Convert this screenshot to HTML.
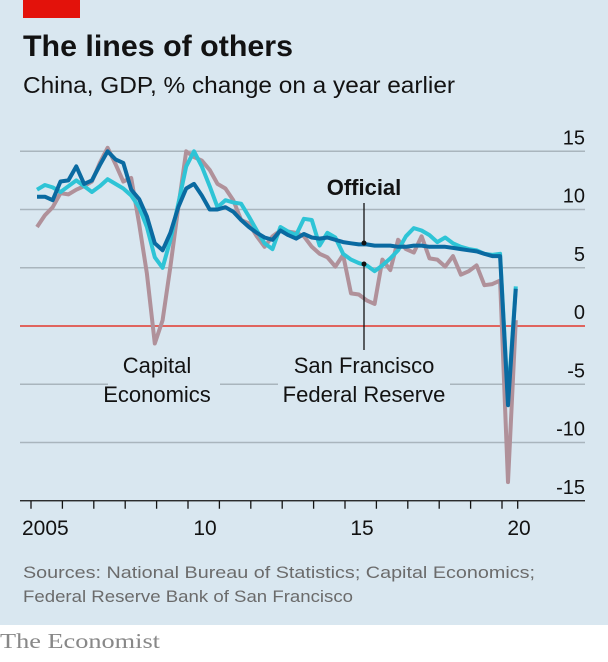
<!DOCTYPE html>
<html><head><meta charset="utf-8"><style>
html,body{margin:0;padding:0;background:#fff;}
svg{display:block;font-family:"Liberation Sans",sans-serif;}
</style></head><body>
<svg id="chart" width="608" height="662" viewBox="0 0 608 662">
<rect x="0" y="0" width="608" height="625" fill="#d9e7f0"/>
<rect x="23" y="0" width="57" height="18" fill="#e3120b"/>
<text x="23" y="56" font-size="30" font-weight="bold" fill="#121212" textLength="270" lengthAdjust="spacingAndGlyphs">The lines of others</text>
<text x="23" y="93" font-size="23" fill="#121212" textLength="432" lengthAdjust="spacingAndGlyphs">China, GDP, % change on a year earlier</text>
<g id="grid"></g>
<g id="labels-bg">
<rect x="108" y="352" width="112" height="56" fill="#d9e7f0"/>
<rect x="278" y="352" width="172" height="56" fill="#d9e7f0"/>
</g>
<g id="series"></g>
<g id="axis"></g>
<g>
<text x="364" y="195" font-size="22" font-weight="bold" text-anchor="middle" fill="#121212">Official</text>
<line x1="364" y1="203" x2="364" y2="243" stroke="#121212" stroke-width="1.3"/>
<circle cx="364" cy="243" r="2.5" fill="#121212"/>
<line x1="364" y1="264" x2="364" y2="350" stroke="#121212" stroke-width="1.3"/>
<circle cx="364" cy="264" r="2.5" fill="#121212"/>
<text x="157" y="373" font-size="22" text-anchor="middle" fill="#121212">Capital</text>
<text x="157" y="402" font-size="22" text-anchor="middle" fill="#121212">Economics</text>
<text x="364" y="373" font-size="22" text-anchor="middle" fill="#121212">San Francisco</text>
<text x="364" y="402" font-size="22" text-anchor="middle" fill="#121212">Federal Reserve</text>
</g>
<text x="23" y="578" font-size="17" fill="#6b6b6b" textLength="512" lengthAdjust="spacingAndGlyphs">Sources: National Bureau of Statistics; Capital Economics;</text>
<text x="23" y="602" font-size="17" fill="#6b6b6b" textLength="330" lengthAdjust="spacingAndGlyphs">Federal Reserve Bank of San Francisco</text>
<text x="0" y="648" font-size="21" fill="#888" font-family="Liberation Serif, serif" textLength="160" lengthAdjust="spacingAndGlyphs">The Economist</text>
</svg>
<script>
const yTicks=[15,10,5,0,-5,-10,-15];
const yTickLabels=["15","10","5","0","-5","-10","-15"];
const xLabelYears=[2005,2010,2015,2020];
const xLabels=["2005","10","15","20"];
const startYear=2005;
const official=[11.1,11.1,10.8,12.4,12.5,13.7,12.2,12.5,13.8,15.0,14.3,14.0,11.7,10.9,9.4,7.1,6.5,8.0,10.2,11.8,
12.2,11.2,10.0,10.0,10.2,9.8,9.1,8.5,8.0,7.6,7.4,8.2,7.8,7.5,7.9,7.6,7.5,7.6,7.4,7.2,7.1,7.0,
7.0,6.9,6.9,6.9,6.8,6.8,6.9,6.9,6.8,6.8,6.8,6.7,6.6,6.5,6.4,6.2,6.0,6.0,-6.8,3.2];
const sfFed=[11.7,12.1,11.9,11.5,12.0,12.5,12.0,11.5,12.0,12.6,12.2,11.8,11.2,10.2,8.5,5.9,5.0,7.4,10.5,13.7,
15.0,13.7,12.0,10.2,10.8,10.6,10.5,9.4,8.2,7.1,6.6,8.5,8.1,7.8,9.2,9.1,6.9,8.0,7.6,6.2,5.7,5.4,
5.2,4.7,5.2,5.8,6.5,7.7,8.4,8.2,7.8,7.2,7.6,7.1,6.8,6.6,6.5,6.2,6.1,6.2,-6.4,3.4];
const capEcon=[8.5,9.5,10.2,11.4,11.3,11.7,12.0,12.4,14.0,15.3,13.9,12.4,12.7,8.8,4.5,-1.5,0.5,5.1,10.2,15.0,
14.5,14.2,13.4,12.2,11.8,10.8,9.1,8.8,7.7,6.8,7.7,8.2,8.1,8.0,7.7,6.8,6.2,5.9,5.1,6.1,2.8,2.7,
2.2,1.9,5.7,4.8,7.4,6.6,6.3,7.7,5.8,5.7,5.1,6.0,4.4,4.7,5.2,3.5,3.6,3.9,-13.4,0.5];

const NS="http://www.w3.org/2000/svg";
const X0=31, PXY=31.4, Y0=326, PXU=11.65;
function xYear(y){return X0+(y-startYear)*PXY;}
function xQ(i){return X0+6+i*PXY/4;}
function yV(v){return Y0-v*PXU;}
function mk(tag,attrs,parent){const e=document.createElementNS(NS,tag);for(const k in attrs)e.setAttribute(k,attrs[k]);parent.appendChild(e);return e;}

const grid=document.getElementById('grid');
yTicks.forEach((t,i)=>{
  if(t!==-15&&t!==0){
    const l=mk('line',{x1:20,x2:585,y1:yV(t),y2:yV(t),stroke:'#a9b5bd','stroke-width':1.5},grid);
    
    
  }
  const tx=mk('text',{x:585,y:yV(t)-7,'font-size':20,'text-anchor':'end',fill:'#121212'},grid);
  tx.textContent=yTickLabels[i];
  
  
});

const ser=document.getElementById('series');
function drawLine(vals,color,name){
  const d=vals.map((v,i)=>(i?'L':'M')+xQ(i).toFixed(1)+','+yV(v).toFixed(1)).join('');
  const p=mk('path',{d:d,fill:'none',stroke:color,'stroke-width':4,'stroke-linejoin':'round'},ser);
  
  
}
const zl=mk('line',{x1:20,x2:585,y1:yV(0),y2:yV(0),stroke:'#e0524a','stroke-width':1.8},ser);


drawLine(capEcon,'#b0919a','capital-economics-line');
drawLine(sfFed,'#2ec4d6','sf-fed-line');
drawLine(official,'#0a6aa1','official-line');

const ax=document.getElementById('axis');
const al=mk('line',{x1:20,x2:585,y1:yV(-15),y2:yV(-15),stroke:'#121212','stroke-width':1.3},ax);


for(let y=startYear;y<=2020.5;y+=1){
  const tk=mk('line',{x1:xYear(y),x2:xYear(y),y1:yV(-15),y2:yV(-15)+8,stroke:'#121212','stroke-width':1.3},ax);
  
  
}
const tkh=mk('line',{x1:xYear(2020.5),x2:xYear(2020.5),y1:yV(-15),y2:yV(-15)+8,stroke:'#121212','stroke-width':1.3},ax);


xLabelYears.forEach((y,i)=>{
  const t=mk('text',{x:xYear(y)+(i===0?-9:17),y:535,'font-size':21,'text-anchor':i===0?'start':'middle',fill:'#121212'},ax);
  t.textContent=xLabels[i];
  
  
});
</script>
</body></html>
